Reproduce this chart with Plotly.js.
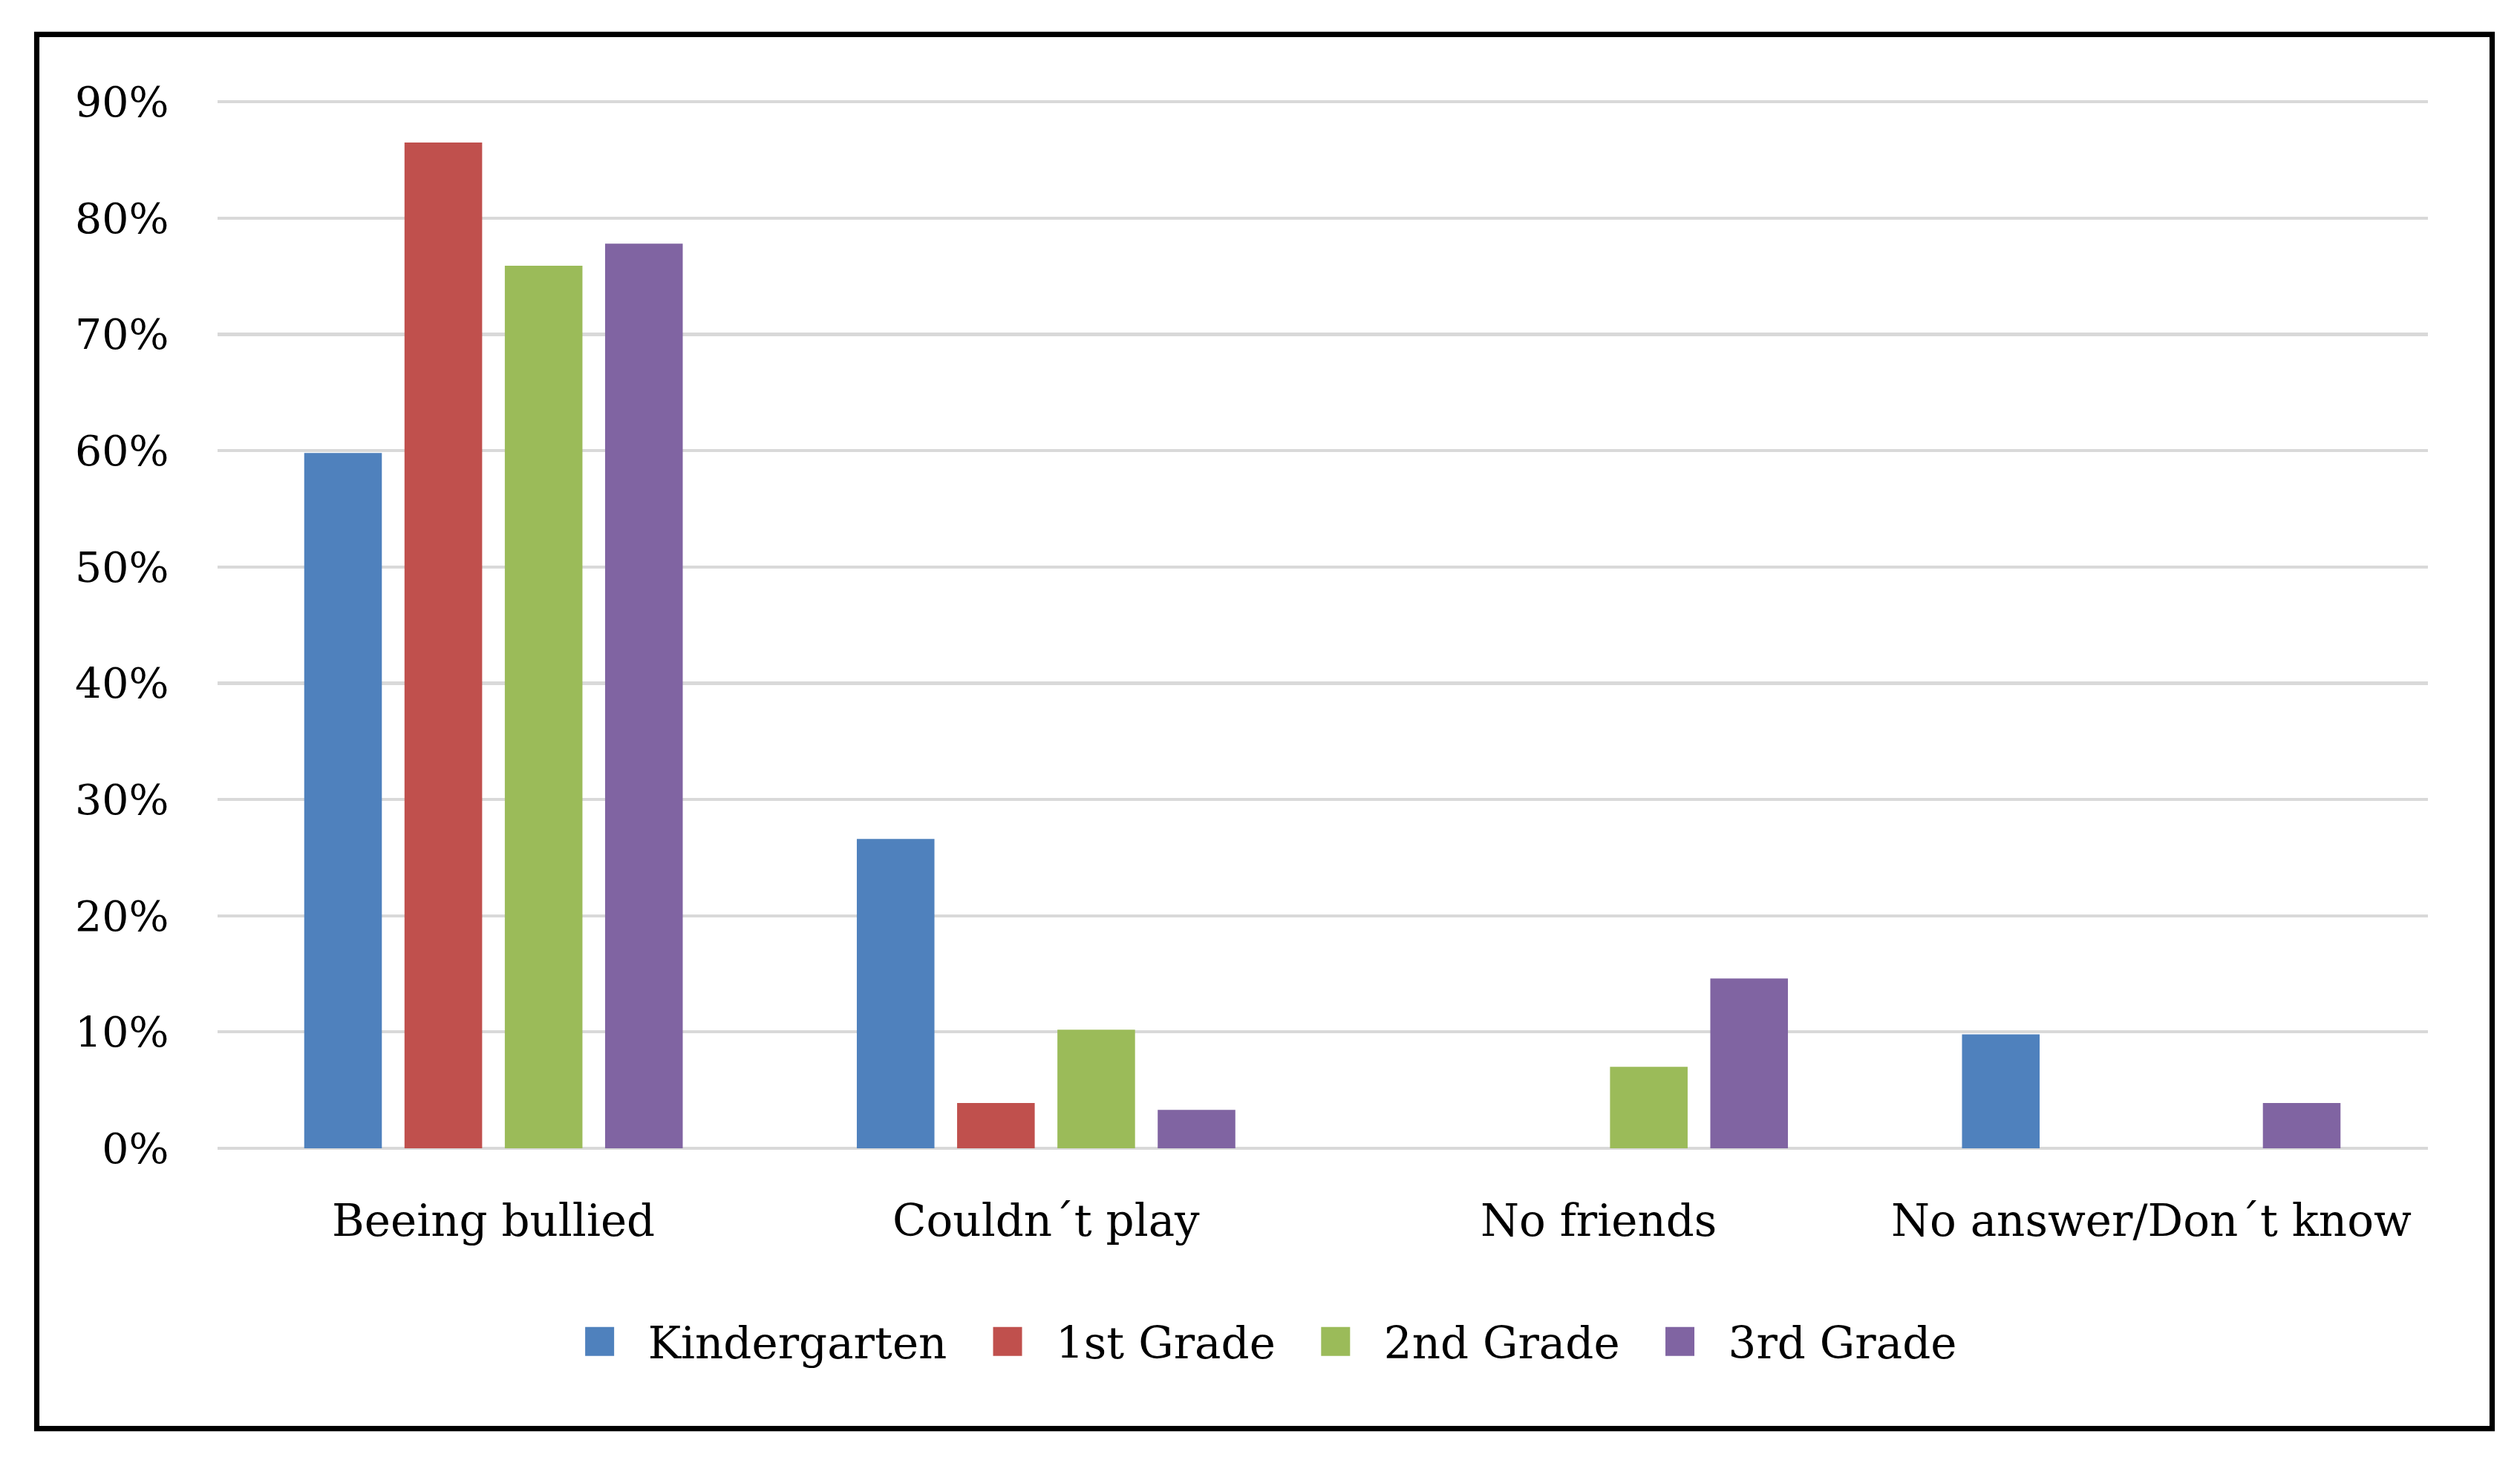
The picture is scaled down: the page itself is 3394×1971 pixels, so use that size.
<!DOCTYPE html>
<html>
<head>
<meta charset="utf-8">
<script src="https://cdn.plot.ly/plotly-3.0.1.min.js"></script>
<style>
  html, body { margin: 0; padding: 0; background: #ffffff; width: 3394px; height: 1971px; overflow: hidden; }
  #wrap { position: absolute; left: 0; top: 0; width: 3394px; height: 1971px; overflow: hidden; }
  #chart { position: absolute; left: 0; top: 0; transform-origin: 0 0; }
</style>
</head>
<body>
<div id="wrap"><div id="chart"></div></div>
<script>
// ---- data ----
const categories = ["Beeing bullied", "Couldn´t play", "No friends", "No answer/Don´t know"];
const seriesNames = ["Kindergarten", "1st Grade", "2nd Grade", "3rd Grade"];
const kindergarten = [0.598, 0.266, 0, 0.098];
const grade1 = [0.865, 0.039, 0, 0];
const grade2 = [0.759, 0.102, 0.070, 0];
const grade3 = [0.778, 0.033, 0.146, 0.039];
const yTickVals = [0, 0.1, 0.2, 0.3, 0.4, 0.5, 0.6, 0.7, 0.8, 0.9];

// ---- styling ----
const colors = ["#4F81BD", "#C0504D", "#9BBB59", "#8064A2"];
const S = 3.25;                       // render scale
const W = 1045, H = 607;              // logical size (scaled to window)
const FONT = "DejaVu Serif, Liberation Serif, serif";
const px = v => v / S;                // full-window pixels -> logical

const Y_MAX = 0.915;
const zeroY = 1547, ninetyY = 136;    // full-window pixel rows of 0% and 90%
const topY = zeroY - (zeroY - ninetyY) * Y_MAX / 0.9;
const plotL = px(292), plotR = px(3269), plotT = px(topY), plotB = px(zeroY);

const values = [kindergarten, grade1, grade2, grade3];
const traces = values.map((v, i) => ({
  type: "bar",
  name: seriesNames[i],
  x: categories,
  y: v,
  marker: { color: colors[i], line: { width: 0 } },
  hoverinfo: "x+y+name"
}));

const pw = plotR - plotL, ph = plotB - plotT;
const fx = v => (px(v) - plotL) / pw;
const fy = v => (plotB - px(v)) / ph;

const layout = {
  width: W,
  height: H,
  paper_bgcolor: "#ffffff",
  plot_bgcolor: "#ffffff",
  font: { family: FONT, color: "#000000", size: 18 },
  margin: { l: plotL, r: W - plotR, t: plotT, b: H - plotB, pad: 0, autoexpand: false },
  barmode: "group",
  bargap: 0.274,
  bargroupgap: 0.226,
  showlegend: true,
  legend: {
    orientation: "h",
    xref: "container", yref: "container",
    x: 0.5, xanchor: "center",
    y: 1 - 1806 / 1971, yanchor: "middle",
    font: { family: FONT, size: 18.3, color: "#000000" },
    bgcolor: "rgba(0,0,0,0)",
    traceorder: "normal",
    itemclick: false
  },
  xaxis: {
    type: "category",
    showgrid: false,
    showline: false,
    zeroline: false,
    ticks: "",
    tickfont: { family: FONT, size: 18.3, color: "#000000" },
    ticklabelstandoff: 17,
    fixedrange: true
  },
  yaxis: {
    range: [0, Y_MAX],
    tickvals: yTickVals,
    tickformat: ".0%",
    showgrid: true,
    gridcolor: "#D9D9D9",
    gridwidth: 1.3,
    zeroline: true,
    zerolinecolor: "#D9D9D9",
    zerolinewidth: 1.3,
    showline: false,
    ticks: "",
    tickfont: { family: FONT, size: 17.5, color: "#000000" },
    ticklabelstandoff: 19,
    fixedrange: true
  },
  shapes: [{
    type: "rect",
    xref: "paper", yref: "paper",
    x0: fx(49), x1: fx(3356),
    y0: fy(1925), y1: fy(45),
    line: { color: "#000000", width: 2.2 },
    fillcolor: "rgba(0,0,0,0)",
    layer: "below"
  }]
};

const el = document.getElementById("chart");
el.style.width = W + "px";
el.style.height = H + "px";
el.style.transform = "scale(" + S + ")";
Plotly.newPlot(el, traces, layout, { displayModeBar: false, staticPlot: true });
</script>
</body>
</html>
